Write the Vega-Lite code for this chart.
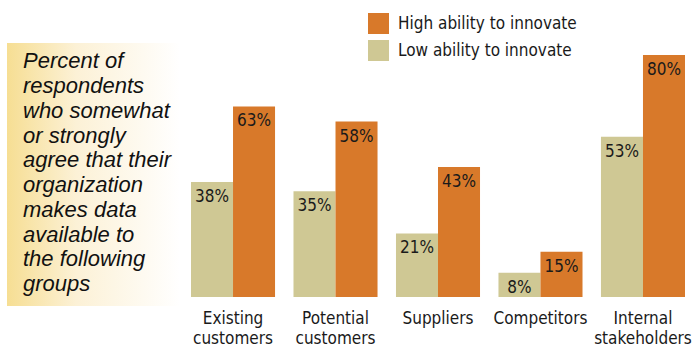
{
  "$schema": "https://vega.github.io/schema/vega-lite/v6.json",
  "padding": {"left": 7, "top": 13, "right": 0, "bottom": 0},
  "spacing": 11,
  "config": {"view": {"stroke": null}, "font": "DejaVu Sans Condensed"},
  "hconcat": [
    {
      "width": 173,
      "height": 263,
      "view": {"stroke": null, "fill": {"expr": "{gradient: 'linear', x1: 0, y1: 0, x2: 1, y2: 0, stops: [{offset: 0, color: '#f6de93'}, {offset: 0.4, color: '#fcf1d6'}, {offset: 1, color: '#ffffff'}]}"}},
      "data": {"values": [
        {"i": 1, "line": "Percent of"},
        {"i": 2, "line": "respondents"},
        {"i": 3, "line": "who somewhat"},
        {"i": 4, "line": "or strongly"},
        {"i": 5, "line": "agree that their"},
        {"i": 6, "line": "organization"},
        {"i": 7, "line": "makes data"},
        {"i": 8, "line": "available to"},
        {"i": 9, "line": "the following"},
        {"i": 10, "line": "groups"}
      ]},
      "mark": {"type": "text", "align": "left", "baseline": "alphabetic", "dx": 16, "font": "Liberation Sans", "fontStyle": "italic", "fontSize": 22, "color": "#111111"},
      "encoding": {
        "x": {"datum": 0, "type": "quantitative", "scale": {"domain": [0, 1]}, "axis": null},
        "y": {"field": "i", "type": "ordinal", "axis": null, "scale": {"padding": 0.813, "align": 0.629}},
        "text": {"field": "line"}
      }
    },
    {
      "width": 494,
      "height": 254,
      "data": {"values": [
        {"group": "Existing customers", "level": "Low ability to innovate", "value": 0.38},
        {"group": "Existing customers", "level": "High ability to innovate", "value": 0.63},
        {"group": "Potential customers", "level": "Low ability to innovate", "value": 0.35},
        {"group": "Potential customers", "level": "High ability to innovate", "value": 0.58},
        {"group": "Suppliers", "level": "Low ability to innovate", "value": 0.21},
        {"group": "Suppliers", "level": "High ability to innovate", "value": 0.43},
        {"group": "Competitors", "level": "Low ability to innovate", "value": 0.08},
        {"group": "Competitors", "level": "High ability to innovate", "value": 0.15},
        {"group": "Internal stakeholders", "level": "Low ability to innovate", "value": 0.53},
        {"group": "Internal stakeholders", "level": "High ability to innovate", "value": 0.80}
      ]},
      "encoding": {
        "x": {
          "field": "group", "type": "nominal",
          "sort": ["Existing customers", "Potential customers", "Suppliers", "Competitors", "Internal stakeholders"],
          "scale": {"paddingInner": 0.18, "paddingOuter": 0},
          "axis": {"title": null, "domain": false, "ticks": false, "labelAngle": 0, "labelExpr": "split(datum.label, ' ')", "labelFontSize": 17, "labelFont": "DejaVu Sans Condensed", "labelColor": "#1a1a1a", "labelPadding": 13, "labelLineHeight": 20, "labelBaseline": "top", "labelLimit": 0}
        },
        "xOffset": {"field": "level", "type": "nominal", "sort": ["Low ability to innovate", "High ability to innovate"], "scale": {"paddingInner": 0, "paddingOuter": 0}},
        "y": {"field": "value", "type": "quantitative", "scale": {"domain": [0, 0.8397], "nice": false, "zero": true}, "axis": null}
      },
      "layer": [
        {
          "mark": {"type": "bar"},
          "encoding": {
            "color": {
              "field": "level", "type": "nominal",
              "scale": {"domain": ["High ability to innovate", "Low ability to innovate"], "range": ["#d8792a", "#cfc894"]},
              "legend": {"title": null, "orient": "none", "legendX": 361, "legendY": -30, "symbolType": "square", "symbolSize": 441, "symbolStrokeWidth": 0, "symbolOpacity": 1, "labelFontSize": 17, "labelFont": "DejaVu Sans Condensed", "labelColor": "#1a1a1a", "labelLimit": 0, "rowPadding": 6, "labelOffset": 9, "padding": 0}
            }
          }
        },
        {
          "mark": {"type": "text", "baseline": "alphabetic", "dy": 20, "fontSize": 17, "font": "DejaVu Sans Condensed", "color": "#1a1a1a"},
          "encoding": {
            "text": {"field": "value", "type": "quantitative", "format": ".0%"}
          }
        }
      ]
    }
  ]
}
